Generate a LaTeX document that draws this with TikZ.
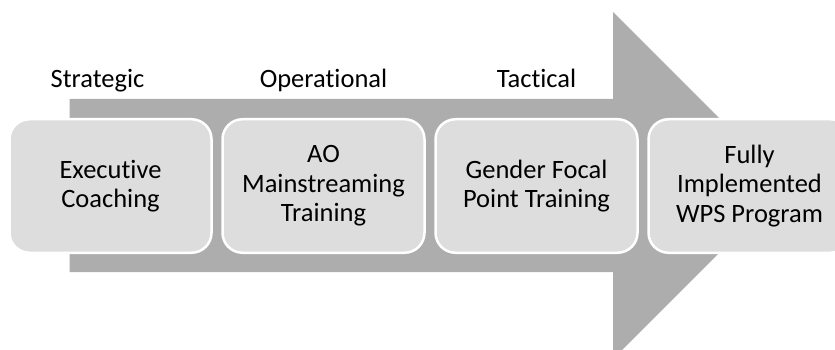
\documentclass[tikz,border=0pt]{standalone}
\usepackage{fontspec}
\setmainfont{Carlito}[Ligatures=NoCommon]
\usepackage{tikz}
\usetikzlibrary{backgrounds,positioning}

\definecolor{arrowgray}{RGB}{173,173,173}
\definecolor{boxgray}{RGB}{221,221,221}

\begin{document}
\begin{tikzpicture}[x=1pt, y=-1pt, node distance=11pt,
  every node/.style={font=\fontsize{26.5}{29.5}\selectfont, text=black},
  stagebox/.style={rectangle, rounded corners=20pt, draw=white, line width=2.5pt, fill=boxgray,
    minimum width=202pt, minimum height=133.5pt, align=center, inner sep=0pt, outer sep=0pt}]
\useasboundingbox (0,0) rectangle (835,350);
\clip (0,0) rectangle (835,350);

\node[stagebox] (coach) at (110.5,186) {Executive\\Coaching};
\node[stagebox, right=of coach] (mainstream) {AO\\Mainstreaming\\Training};
\node[stagebox, right=of mainstream] (focal) {Gender Focal\\Point Training};
\node[stagebox, right=of focal] (wps) {Fully\\Implemented\\WPS Program};

\node[anchor=base] (strategic) at ([xshift=-13pt, yshift=32pt] coach.north) {Strategic};
\node[anchor=base] (operational) at ([yshift=32pt] mainstream.north) {Operational};
\node[anchor=base] (tactical) at ([yshift=32pt] focal.north) {Tactical};

  \begin{scope}[on background layer]
    \fill[arrowgray] (69.5,99) -- (613,99) -- (613,12) -- (786.5,185.5) -- (613,359)
      -- (613,272) -- (69.5,272) -- cycle;
  \end{scope}
\end{tikzpicture}
\end{document}
